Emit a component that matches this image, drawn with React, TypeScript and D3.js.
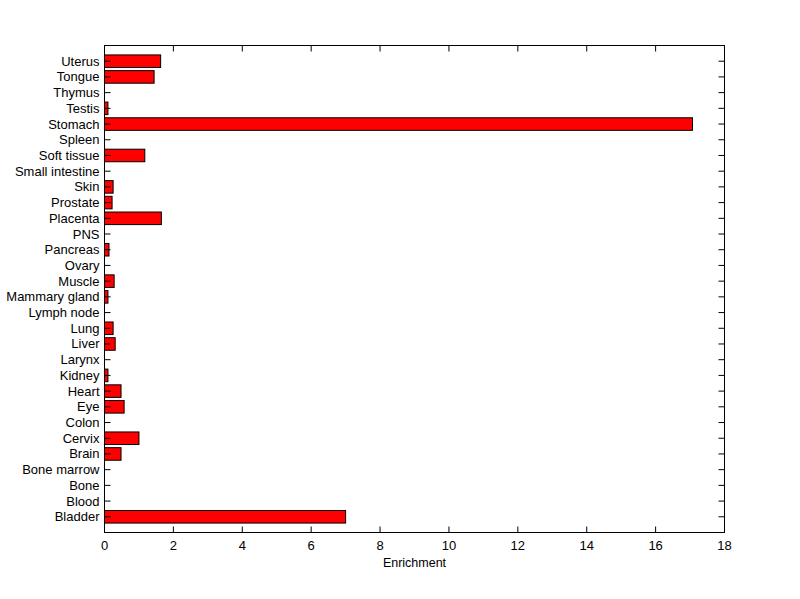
import React from "react";
import * as d3 from "d3";

const categories = [
  "Bladder", "Blood", "Bone", "Bone marrow", "Brain", "Cervix", "Colon", "Eye", "Heart", "Kidney",
  "Larynx", "Liver", "Lung", "Lymph node", "Mammary gland", "Muscle", "Ovary", "Pancreas", "PNS",
  "Placenta", "Prostate", "Skin", "Small intestine", "Soft tissue", "Spleen", "Stomach", "Testis",
  "Thymus", "Tongue", "Uterus",
];
const enrichment = [
  7.0, 0, 0, 0, 0.48, 1.0, 0, 0.57, 0.48, 0.1,
  0, 0.31, 0.25, 0, 0.1, 0.28, 0, 0.13, 0,
  1.65, 0.22, 0.25, 0, 1.17, 0, 17.07, 0.1,
  0, 1.44, 1.63,
];
const xTicks = [0, 2, 4, 6, 8, 10, 12, 14, 16, 18];

const W = 800, H = 599;
const L = 104.5, R = 724.5, T = 45.5, B = 532.5;
const FONT = "'Liberation Sans', Arial, sans-serif";

export default function App() {
  const x = d3.scaleLinear().domain([0, 18]).range([L, R]);
  const y = d3.scaleLinear().domain([0, categories.length + 1]).range([B, T]);
  const step = Math.abs(y(1) - y(0));
  const bh = step * 0.8;
  const tl = 6;
  return (
    <svg width={W} height={H} style={{ position: "absolute", left: 0, top: 0, background: "#fff" }}>
      <rect x={0} y={0} width={W} height={H} fill="#fff" />
      {categories.map((c, i) => {
        const v = enrichment[i];
        if (v <= 0) return null;
        return (
          <rect key={c} x={x(0)} y={y(i + 1) - bh / 2} width={x(v) - x(0)} height={bh}
            fill="#ff0000" stroke="#000" strokeWidth={1} />
        );
      })}
      <rect x={L} y={T} width={R - L} height={B - T} fill="none" stroke="#000" strokeWidth={1} />
      {xTicks.map((t) => (
        <g key={t}>
          <line x1={x(t)} x2={x(t)} y1={B} y2={B - tl} stroke="#000" />
          <line x1={x(t)} x2={x(t)} y1={T} y2={T + tl} stroke="#000" />
          <text x={x(t)} y={550} fontFamily={FONT} fontSize={13} textAnchor="middle">{t}</text>
        </g>
      ))}
      {categories.map((c, i) => {
        const yy = y(i + 1);
        return (
          <g key={c}>
            <line x1={L} x2={L + tl} y1={yy} y2={yy} stroke="#000" />
            <line x1={R} x2={R - tl} y1={yy} y2={yy} stroke="#000" />
            <text x={99.5} y={yy + 4.5} fontFamily={FONT} fontSize={13} textAnchor="end">{c}</text>
          </g>
        );
      })}
      <text x={(L + R) / 2} y={567} fontFamily={FONT} fontSize={12.5} textAnchor="middle">Enrichment</text>
    </svg>
  );
}
